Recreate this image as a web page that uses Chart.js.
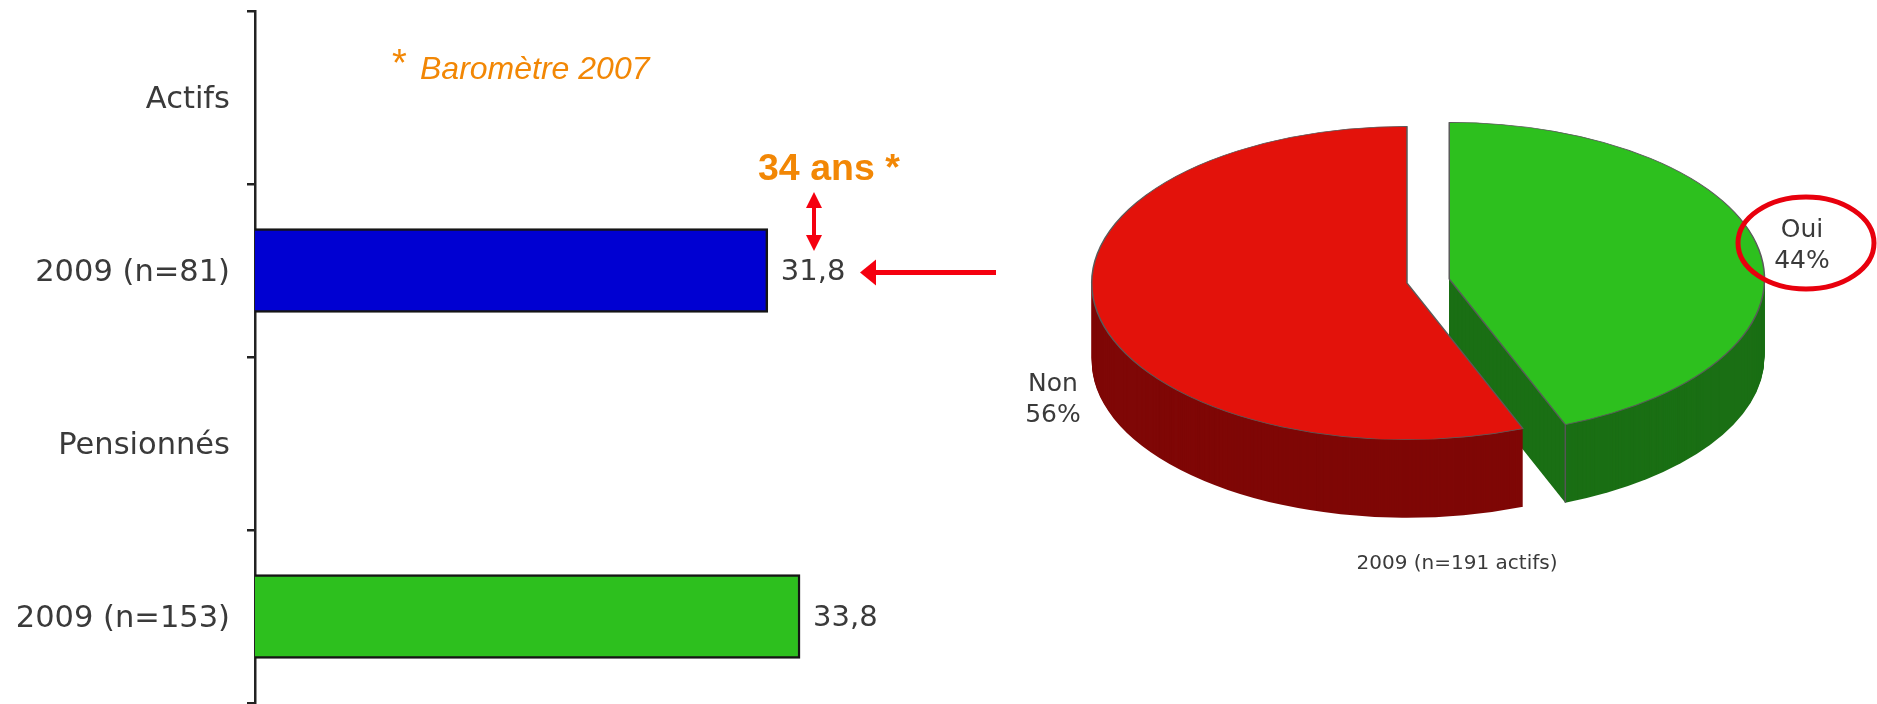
<!DOCTYPE html>
<html lang="fr">
<head>
<meta charset="utf-8">
<title>Actifs et pensionnés 2009</title>
<script src="https://cdn.jsdelivr.net/npm/chart.js@4"></script>
<style>
    html, body { margin: 0; padding: 0; background: #fff; overflow: hidden; }
    #page { position: relative; width: 1877px; height: 704px; }
    #barWrap { position: absolute; left: 0; top: 0; width: 1000px; height: 704px; }
    #pieWrap { position: absolute; left: 937px; top: 0; width: 940px; height: 704px; }
</style>
</head>
<body>
<div id="page">
    <div id="barWrap"><canvas id="ageChart"></canvas></div>
    <div id="pieWrap"><canvas id="pieChart"></canvas></div>
</div>
<script>
// Bar chart data
const categories = ['Actifs', '2009 (n=81)', 'Pensionnés', '2009 (n=153)'];
const ageValues = [null, 31.8, null, 33.8];
const barColors = ['#0000d2', '#0000d2', '#2dc01e', '#2dc01e'];

// Pie chart data
const pieLabels = ['Oui', 'Non'];
const pieValues = [44, 56];
const pieColors = ['#2dc01e', '#e3120b'];
const pieSideColors = ['#1a6f14', '#7f0706'];
const pieFooter = '2009 (n=191 actifs)';

const ORANGE = '#f28705';
const RED = '#f5000f';
const TEXT = '#3a3a3a';
const SANS = '"DejaVu Sans"';
const ARIAL = '"Liberation Sans"';

function drawArrowHead(ctx, x, y, dx, dy, len, halfWidth) {
    ctx.beginPath();
    ctx.moveTo(x, y);
    ctx.lineTo(x + dx * len - dy * halfWidth, y + dy * len - dx * halfWidth);
    ctx.lineTo(x + dx * len + dy * halfWidth, y + dy * len + dx * halfWidth);
    ctx.closePath();
    ctx.fill();
}

// Value labels and the orange/red notes around the bars
const barNotes = {
    id: 'barNotes',
    afterDatasetsDraw(chart) {
        const ctx = chart.ctx;
        const bars = chart.getDatasetMeta(0).data;
        ctx.save();
        ctx.textBaseline = 'middle';
        ctx.textAlign = 'left';
        ctx.fillStyle = TEXT;
        ctx.font = '29px ' + SANS;
        ageValues.forEach(function(v, i) {
            if (v === null) return;
            ctx.fillText(String(v).replace('.', ','), bars[i].x + 13, bars[i].y + 2);
        });

        // Barometer note
        ctx.fillStyle = ORANGE;
        ctx.font = '38px ' + ARIAL;
        ctx.fillText('*', 392, 66);
        ctx.font = 'italic 32px ' + ARIAL;
        ctx.fillText('Baromètre 2007', 420, 70);
        ctx.font = 'bold 37.5px ' + ARIAL;
        ctx.fillText('34 ans *', 758, 170);

        // Arrows
        const barY = bars[1].y + 2;
        ctx.fillStyle = RED;
        ctx.strokeStyle = RED;
        ctx.lineWidth = 4;
        ctx.beginPath();
        ctx.moveTo(814, 204);
        ctx.lineTo(814, 238);
        ctx.stroke();
        drawArrowHead(ctx, 814, 192, 0, 1, 16, 8);
        drawArrowHead(ctx, 814, 251, 0, -1, 16, 8);
        ctx.lineWidth = 5;
        ctx.beginPath();
        ctx.moveTo(872, barY);
        ctx.lineTo(996, barY);
        ctx.stroke();
        drawArrowHead(ctx, 860, barY, 1, 0, 16, 13);
        ctx.restore();
    }
};

new Chart(document.getElementById('ageChart'), {
    type: 'bar',
    data: {
        labels: categories,
        datasets: [{
            data: ageValues,
            backgroundColor: barColors,
            borderColor: '#151515',
            borderWidth: 2.5,
            barThickness: 84
        }]
    },
    options: {
        indexAxis: 'y',
        animation: false,
        responsive: true,
        maintainAspectRatio: false,
        layout: { padding: { top: 11, bottom: 1 } },
        plugins: { legend: { display: false }, tooltip: { enabled: false } },
        scales: {
            x: { display: false, min: 0, max: 46.2 },
            y: {
                afterFit: function(scale) {
                    scale.width = 255;
                    // tick padding would otherwise push the axis in from the top and bottom
                    scale.paddingTop = 0;
                    scale.paddingBottom = 0;
                },
                border: { color: '#222', width: 2.5 },
                grid: { drawOnChartArea: false, color: '#222', lineWidth: 2.5, tickLength: 8 },
                ticks: { color: TEXT, padding: 17, labelOffset: 3, font: { family: 'DejaVu Sans', size: 30.5 } }
            }
        }
    },
    plugins: [barNotes]
});

// Fake 3D pie: the library computes the arcs, this plugin squashes, extrudes and pulls out the green slice
const pieTilt = 0.497;
const pieCenterY = 283;
const pieDepth = 78;
const pieExplode = [43, 0];

const pie3d = {
    id: 'pie3d',
    beforeDatasetsDraw(chart) {
        const ctx = chart.ctx;
        chart.getDatasetMeta(0).data.forEach(function(arc, i) {
            const mid = (arc.startAngle + arc.endAngle) / 2;
            const shiftX = Math.cos(mid) * pieExplode[i];
            const shiftY = Math.sin(mid) * pieExplode[i];
            const cutX = arc.x + shiftX + Math.cos(arc.endAngle) * arc.outerRadius;
            const cutY = arc.y + shiftY + Math.sin(arc.endAngle) * arc.outerRadius;
            ctx.save();
            ctx.translate(arc.x, pieCenterY);
            ctx.scale(1, pieTilt);
            ctx.translate(-arc.x, -arc.y);

            // Side wall, stacked from the bottom up
            ctx.fillStyle = pieSideColors[i];
            for (let d = pieDepth; d > 0; d--) {
                ctx.beginPath();
                ctx.moveTo(arc.x + shiftX, arc.y + shiftY + d / pieTilt);
                ctx.arc(arc.x + shiftX, arc.y + shiftY + d / pieTilt, arc.outerRadius, arc.startAngle, arc.endAngle);
                ctx.closePath();
                ctx.fill();
            }

            // Edge between the rim and the cut wall of the pulled out slice
            if (pieExplode[i] > 0) {
                ctx.strokeStyle = '#555';
                ctx.lineWidth = 1.5;
                ctx.beginPath();
                ctx.moveTo(cutX, cutY);
                ctx.lineTo(cutX, cutY + pieDepth / pieTilt);
                ctx.stroke();
            }

            // Top face
            ctx.translate(shiftX, shiftY);
            arc.draw(ctx);
            ctx.restore();
        });
        return false;
    },
    afterDraw(chart) {
        const ctx = chart.ctx;
        const left = chart.canvas.getBoundingClientRect().left;
        ctx.save();
        ctx.fillStyle = TEXT;
        ctx.textAlign = 'center';
        ctx.textBaseline = 'middle';
        ctx.font = '25px ' + SANS;
        ctx.fillText(pieLabels[0], 1802 - left, 230);
        ctx.fillText(pieValues[0] + '%', 1802 - left, 261);
        ctx.fillText(pieLabels[1], 1053 - left, 384);
        ctx.fillText(pieValues[1] + '%', 1053 - left, 415);
        ctx.font = '20px ' + SANS;
        ctx.fillText(pieFooter, 1457 - left, 564);

        // Circle around the "Oui" label
        ctx.strokeStyle = '#e8000d';
        ctx.lineWidth = 5;
        ctx.beginPath();
        ctx.ellipse(1806 - left, 243, 68, 46, 0, 0, Math.PI * 2);
        ctx.stroke();
        ctx.restore();
    }
};

new Chart(document.getElementById('pieChart'), {
    type: 'pie',
    data: {
        labels: pieLabels,
        datasets: [{
            data: pieValues,
            backgroundColor: pieColors,
            borderColor: '#5a5a5a',
            borderWidth: 1.5
        }]
    },
    options: {
        animation: false,
        responsive: true,
        maintainAspectRatio: false,
        layout: { padding: { top: 36, bottom: 36 } },
        plugins: { legend: { display: false }, tooltip: { enabled: false } }
    },
    plugins: [pie3d]
});
</script>
</body>
</html>
